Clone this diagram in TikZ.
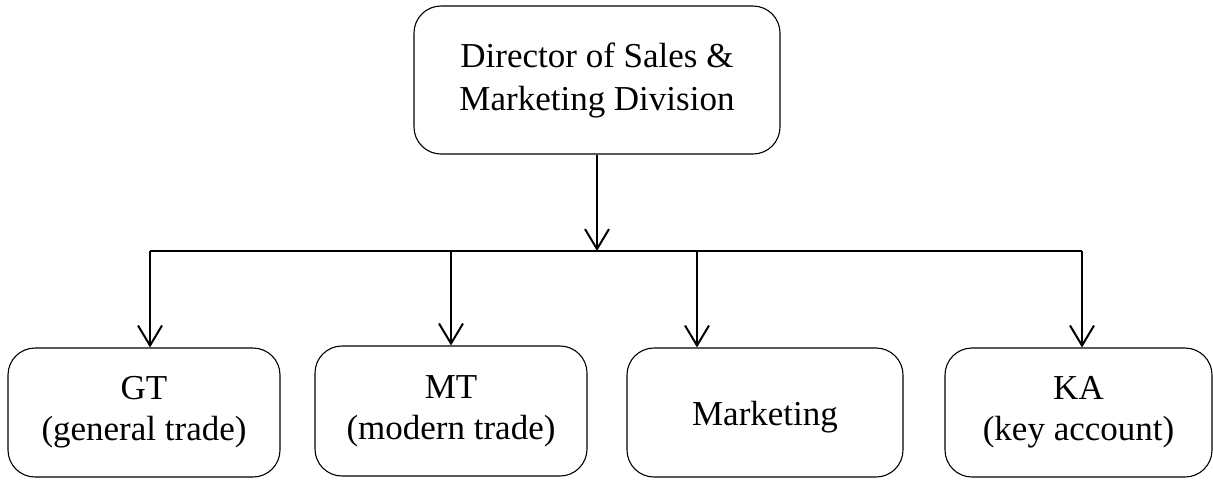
\documentclass[tikz,border=0pt]{standalone}
\usepackage{fontspec}
\setmainfont{Liberation Serif}
\usetikzlibrary{arrows.meta}
\begin{document}
\begin{tikzpicture}[x=0.5pt,y=-0.5pt,
  box/.style={draw, line width=0.55pt, rounded corners=13.5pt, align=center,
    inner sep=0pt, font=\fontsize{17.5}{20.5}\selectfont},
  link/.style={line width=1pt},
  arr/.style={link, -{Straight Barb[length=10pt,width=12pt,line width=1pt]}}
]
\useasboundingbox (0,0) rectangle (1213,479);

% head of the division
\node[box, minimum width=183pt, minimum height=74pt,
  font=\fontsize{17.5}{21.5}\selectfont] (dir) at (597,80)
  {Director of Sales \&\\Marketing Division};

% departments
\node[box, minimum width=136pt, minimum height=64.5pt] (gt) at (144,412.5)
  {GT\\(general trade)};
\node[box, minimum width=136pt, minimum height=65pt] (mt) at (451,411)
  {MT\\(modern trade)};
\node[box, minimum width=138pt, minimum height=64.5pt,
  text height=17pt, text depth=4pt] (mk) at (765,412.5)
  {Marketing};
\node[box, minimum width=133.5pt, minimum height=64.5pt] (ka) at (1078.5,412.5)
  {KA\\(key account)};

% distribution bar
\coordinate (hub) at (597,251);
\coordinate (j1) at (150,251);
\coordinate (j2) at (451,251);
\coordinate (j3) at (697,251);
\coordinate (j4) at (1082,251);

\draw[arr] (dir.south) -- (hub);
\draw[link] (j1) -- (j4);
\draw[arr] (j1) -- (j1 |- gt.north);
\draw[arr] (j2) -- (j2 |- mt.north);
\draw[arr] (j3) -- (j3 |- mk.north);
\draw[arr] (j4) -- (j4 |- ka.north);
\end{tikzpicture}
\end{document}
